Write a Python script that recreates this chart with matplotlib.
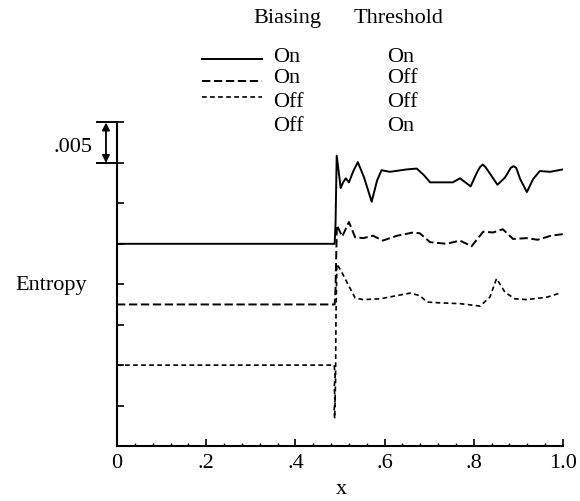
import numpy as np
import matplotlib
matplotlib.use('Agg')
import matplotlib.pyplot as plt

plt.rcParams['font.family'] = ['Liberation Serif', 'DejaVu Serif']
plt.rcParams['lines.scale_dashes'] = False

# entropy values are in units of 0.001 (one tick = .005)
x_solid = [0, 0.488, 0.490, 0.4926, 0.5016, 0.507, 0.513, 0.520, 0.530, 0.540,
           0.554, 0.571, 0.583, 0.593, 0.612, 0.650, 0.672, 0.688, 0.702, 0.753,
           0.769, 0.793, 0.806, 0.814, 0.820, 0.826, 0.836, 0.853, 0.870, 0.883,
           0.889, 0.895, 0.904, 0.919, 0.933, 0.948, 0.971, 1.0]
y_solid = [25.0, 25.0, 27.5, 35.9, 31.9, 32.6, 33.1, 32.6, 34.0, 35.1,
           33.2, 30.2, 32.8, 34.1, 33.9, 34.2, 34.3, 33.5, 32.6, 32.6,
           33.1, 32.1, 33.7, 34.5, 34.8, 34.5, 33.7, 32.3, 33.2, 34.4,
           34.6, 34.4, 33.0, 31.4, 33.0, 34.0, 33.9, 34.2]

x_dash = [0, 0.488, 0.490, 0.493, 0.505, 0.520, 0.534, 0.552, 0.574, 0.596,
          0.628, 0.664, 0.679, 0.702, 0.739, 0.769, 0.795, 0.821, 0.843, 0.865,
          0.888, 0.919, 0.943, 0.973, 1.0]
y_dash = [17.5, 17.5, 19.5, 27.3, 25.9, 27.7, 25.8, 25.7, 26.0, 25.4,
          26.0, 26.4, 26.3, 25.2, 25.0, 25.4, 24.7, 26.5, 26.4, 26.8,
          25.6, 25.7, 25.5, 26.0, 26.2]

x_dot = [0, 0.487, 0.489, 0.487, 0.489, 0.487, 0.488, 0.490, 0.491, 0.493,
         0.502, 0.516, 0.534, 0.552, 0.590, 0.628, 0.657, 0.679, 0.695, 0.724,
         0.769, 0.814, 0.836, 0.851, 0.870, 0.892, 0.919, 0.964, 0.993]
y_dot = [10.0, 10.0, 8.6, 7.2, 5.8, 4.5, 3.4, 8.0, 16.0, 22.5,
         21.7, 20.2, 18.3, 18.1, 18.2, 18.6, 18.9, 18.6, 17.8, 17.7,
         17.6, 17.3, 18.4, 20.7, 19.0, 18.2, 18.1, 18.4, 18.9]

biasing = ['On', 'On', 'Off', 'Off']
threshold = ['On', 'Off', 'Off', 'On']
xtick_vals = [0, 0.2, 0.4, 0.6, 0.8, 1.0]
xtick_labels = ['0', '.2', '.4', '.6', '.8', '1.0']

solid_style = dict(color='black', lw=1.4, linestyle='-')
dash_style = dict(color='black', lw=1.4, linestyle=(0, (6.0, 2.6)))
dot_style = dict(color='black', lw=1.2, linestyle=(0, (3.4, 2.4)))
row_styles = [solid_style, dash_style, dot_style, None]

fig = plt.figure(figsize=(5.8, 5.01), dpi=100)
ax = fig.add_axes([0.2017, 0.1098, 0.769, 0.6457])

ax.plot(x_solid, y_solid, **solid_style)
ax.plot(x_dash, y_dash, **dash_style)
ax.plot(x_dot, y_dot, **dot_style)

ax.set_xlim(0, 1.0)
ax.set_ylim(0, 40)
ax.spines['top'].set_visible(False)
ax.spines['right'].set_visible(False)
for s in ['left', 'bottom']:
    ax.spines[s].set_linewidth(1.5)

ax.set_xticks(xtick_vals)
ax.set_xticklabels(xtick_labels, fontsize=16)
ax.set_xticks(np.arange(0, 1.001, 0.04), minor=True)
ax.set_yticks(np.arange(0, 40.1, 5))
ax.set_yticklabels([])
ax.tick_params(which='major', direction='in', length=5, width=1.2, pad=6)
ax.tick_params(which='minor', direction='in', length=2.5, width=1.0)

ax.set_xlabel('x', fontsize=16, va='center')
ax.xaxis.set_label_coords(0.504, -0.136)
fig.text(0.026, 0.421, 'Entropy', fontsize=16, va='baseline')

# .005 scale marker
fig.text(0.159, 0.697, '.005', fontsize=16, ha='right', va='baseline')
bar_tr = ax.get_yaxis_transform()
for yb in [35, 40]:
    ax.plot([-0.044, -0.0045], [yb, yb], color='black', lw=1.4,
            transform=bar_tr, clip_on=False)
ax.annotate('', xy=(-0.0247, 40), xytext=(-0.0247, 35),
            xycoords=bar_tr, textcoords=bar_tr,
            arrowprops=dict(arrowstyle='<|-|>', color='black', lw=1.3,
                            shrinkA=0, shrinkB=0, mutation_scale=11))

# legend table
fig.text(0.436, 0.954, 'Biasing', fontsize=16, va='baseline')
fig.text(0.610, 0.954, 'Threshold', fontsize=16, va='baseline')
row_base = [0.877, 0.834, 0.787, 0.739]
line_y = [0.882, 0.838, 0.806]
for i in range(4):
    fig.text(0.471, row_base[i], biasing[i], fontsize=16, va='baseline')
    fig.text(0.667, row_base[i], threshold[i], fontsize=16, va='baseline')
    if row_styles[i] is not None:
        ax.plot([0.348, 0.451], [line_y[i], line_y[i]], transform=fig.transFigure,
                clip_on=False, **row_styles[i])

fig.savefig('out.png', dpi=100)
